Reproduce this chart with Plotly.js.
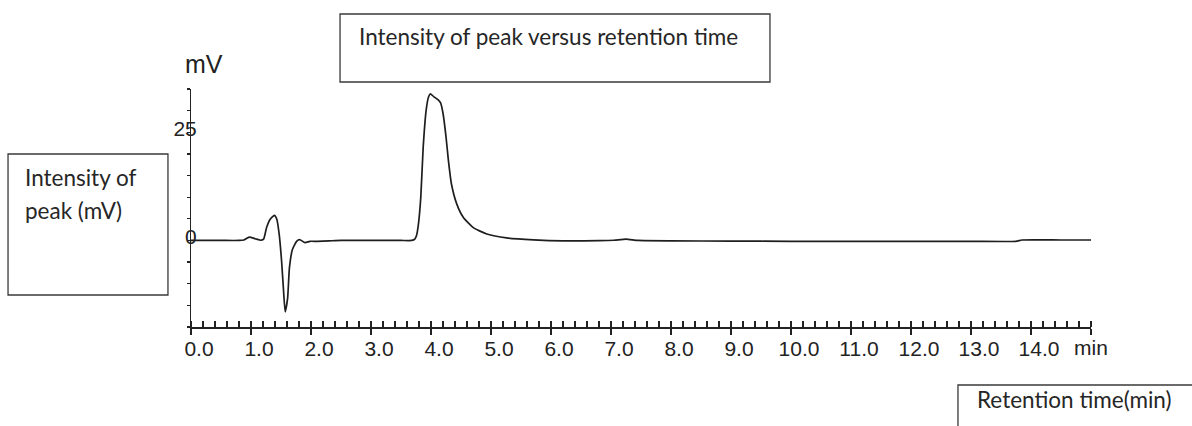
<!DOCTYPE html>
<html>
<head>
<meta charset="utf-8">
<script src="https://cdn.plot.ly/plotly-3.0.1.min.js"></script>
<style>html,body{margin:0;padding:0;background:#fff;}#chart{width:1192px;height:426px;}</style>
</head>
<body>
<div id="chart"></div>
<script>
// Retention time (min)
const retentionTime = [0, 0.5, 0.8, 0.88, 0.97, 1.07, 1.16, 1.21, 1.26, 1.32,
  1.39, 1.43, 1.47, 1.51, 1.54, 1.57, 1.61, 1.64, 1.69, 1.76,
  1.81, 1.9, 1.98, 2.1, 2.3, 2.5, 3.0, 3.5, 3.68, 3.73,
  3.76, 3.79, 3.83, 3.87, 3.92, 3.96, 3.99, 4.04, 4.12, 4.16,
  4.2, 4.25, 4.29, 4.34, 4.43, 4.54, 4.71, 4.93, 5.26, 5.71,
  6.2, 6.8, 7.05, 7.25, 7.45, 8, 9, 10, 11, 12,
  13, 13.75, 13.85, 14.5, 15];
// Intensity of peak (mV)
const intensity = [0, 0, 0, 0.1, 0.75, 0.4, 0.05, 0.3, 3.0, 4.9,
  5.8, 4.9, 1.4, -4.8, -11.1, -16.5, -13.4, -6.4, -2.1, -0.2,
  0.2, -0.5, -0.2, -0.2, -0.1, 0, 0, 0, 0, 0.3,
  1.2, 3.7, 10.0, 21.6, 30.2, 33.2, 33.9, 33.3, 32.5, 31.8,
  29.4, 24.0, 18.5, 13.1, 8.4, 5.3, 2.9, 1.5, 0.6, 0.15,
  -0.1, -0.05, 0.05, 0.3, 0.0, -0.1, -0.15, -0.2, -0.2, -0.2,
  -0.2, -0.2, 0.1, 0.1, 0.1];

const xTickVals = [0,1,2,3,4,5,6,7,8,9,10,11,12,13,14,15];
const xTickText = ["0.0","1.0","2.0","3.0","4.0","5.0","6.0","7.0","8.0","9.0","10.0","11.0","12.0","13.0","14.0",""];
const yTickVals = [-20,-15,-10,-5,0,5,10,15,20,25,30,35];
const yTickText = ["","","","","0","","","","","25","",""];

const titleText = "Intensity of peak versus retention time";
const yBoxLines = ["Intensity of", "peak (mV)"];
const xBoxText = "Retention time(min)";
const yUnit = "mV";
const xUnit = "min";

const tickFont = {family: "Liberation Sans, Arial, sans-serif", size: 21, color: "#222"};
const boxFont = {family: "Lato, sans-serif", size: 22.5, color: "#262626"};
const xRange = [0, 15], yRange = [-20, 35];

const trace = {
  x: retentionTime, y: intensity, type: "scatter", mode: "lines",
  line: {color: "#1e1e1e", width: 1.7, shape: "spline", smoothing: 0.5},
  hoverinfo: "skip", showlegend: false
};

const boxLine = {color: "#3a3a3a", width: 1.3};

const layout = {
  width: 1192, height: 426,
  margin: {l: 191, r: 101, t: 89, b: 99},
  paper_bgcolor: "#fff", plot_bgcolor: "#fff",
  showlegend: false,
  xaxis: {
    range: xRange, showgrid: false, zeroline: false,
    showline: true, linecolor: "#222", linewidth: 1.5,
    tickmode: "array", tickvals: xTickVals, ticktext: xTickText,
    ticks: "outside", ticklen: 6, tickwidth: 1.3, tickcolor: "#222",
    tickfont: tickFont, ticklabelshift: 8, ticklabelstandoff: -4,
    minor: {tickmode: "linear", tick0: 0, dtick: 0.2, ticks: "inside", ticklen: 6, tickwidth: 1.1, tickcolor: "#222"},
    fixedrange: true
  },
  xaxis2: {
    overlaying: "x", anchor: "y", side: "bottom", range: xRange,
    showgrid: false, zeroline: false, showline: false,
    tickmode: "array", tickvals: xTickVals, ticks: "inside", ticklen: 6, tickwidth: 1.3, tickcolor: "#222",
    showticklabels: false, fixedrange: true
  },
  yaxis: {
    range: yRange, showgrid: false, zeroline: false,
    showline: true, linecolor: "#222", linewidth: 1.5,
    tickmode: "array", tickvals: yTickVals, ticktext: yTickText,
    ticks: "outside", ticklen: 2.5, tickwidth: 1.2, tickcolor: "#222",
    tickfont: tickFont, ticklabelstandoff: -14, ticklabelshift: -4,
    fixedrange: true
  },
  yaxis2: {
    overlaying: "y", anchor: "x", side: "left", range: yRange,
    showgrid: false, zeroline: false, showline: false,
    tickmode: "array", tickvals: yTickVals, ticks: "inside", ticklen: 2.5, tickwidth: 1.2, tickcolor: "#222",
    showticklabels: false, fixedrange: true
  },
  shapes: [
    {type: "rect", xref: "paper", yref: "paper", x0: 0.1656, x1: 0.6433, y0: 1.0294, y1: 1.3151, line: boxLine, fillcolor: "rgba(0,0,0,0)"},
    {type: "rect", xref: "paper", yref: "paper", x0: -0.2033, x1: -0.0256, y0: 0.1345, y1: 0.7269, line: boxLine, fillcolor: "rgba(0,0,0,0)"},
    {type: "rect", xref: "paper", yref: "paper", x0: 0.8522, x1: 1.13, y0: -0.48, y1: -0.2437, line: boxLine, fillcolor: "rgba(0,0,0,0)"}
  ],
  annotations: [
    {xref: "paper", yref: "paper", x: 0.1844, y: 1.2185, xanchor: "left", yanchor: "middle", text: titleText, showarrow: false, font: boxFont},
    {xref: "paper", yref: "paper", x: -0.1867, y: 0.6261, xanchor: "left", yanchor: "middle", text: yBoxLines[0], showarrow: false, font: boxFont},
    {xref: "paper", yref: "paper", x: -0.1867, y: 0.4874, xanchor: "left", yanchor: "middle", text: yBoxLines[1], showarrow: false, font: boxFont},
    {xref: "paper", yref: "paper", x: 0.8711, y: -0.3067, xanchor: "left", yanchor: "middle", text: xBoxText, showarrow: false, font: boxFont},
    {xref: "paper", yref: "paper", x: 0.0139, y: 1.107, xanchor: "center", yanchor: "middle", text: yUnit, showarrow: false,
      font: {family: "Liberation Sans, Arial, sans-serif", size: 25, color: "#222"}},
    {xref: "paper", yref: "paper", x: 1.0, y: -0.088, xanchor: "center", yanchor: "middle", text: xUnit, showarrow: false, font: tickFont}
  ]
};

Plotly.newPlot("chart", [trace], layout, {staticPlot: true, displayModeBar: false});
</script>
</body>
</html>
